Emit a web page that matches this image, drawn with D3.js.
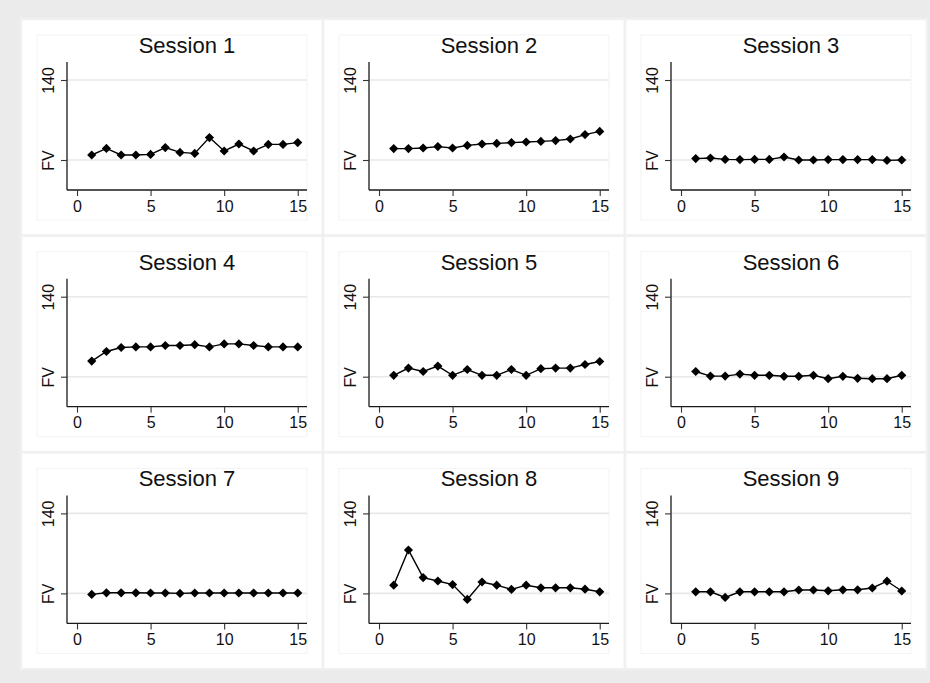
<!DOCTYPE html>
<html><head><meta charset="utf-8">
<script src="https://cdn.jsdelivr.net/npm/d3@7/dist/d3.min.js"></script>
<style>body{margin:0;background:#ebebeb}svg{display:block}</style>
</head><body>
<script>
// ---- data ----
const sessionTitles = ["Session 1","Session 2","Session 3","Session 4","Session 5","Session 6","Session 7","Session 8","Session 9"];
const periods = [1,2,3,4,5,6,7,8,9,10,11,12,13,14,15];
const fvSession1 = [102.5,105.8,102.5,102.5,102.8,106.2,103.8,103.3,111.2,104.5,108,104.5,107.8,107.8,108.7];
const fvSession2 = [105.7,105.7,106,106.7,106,107.3,108,108.3,108.7,109,109.3,109.7,110.5,112.7,114.3];
const fvSession3 = [100.7,101,100.3,100.2,100.3,100.3,101.5,100,100,100.2,100.2,100.2,100.2,99.8,100];
const fvSession4 = [107.8,112.6,114.6,114.9,114.9,115.6,115.6,116,114.9,116.4,116.4,115.6,114.9,114.9,114.9];
const fvSession5 = [100.7,104.3,102.6,105.3,100.7,103.6,100.7,100.7,103.6,100.7,104,104.3,104.3,106.1,107.6];
const fvSession6 = [102.6,100.3,100.3,101.3,100.7,100.7,100.2,100.2,100.7,99,100.2,99.2,99,99,100.7];
const fvSession7 = [99.5,100.3,100.3,100.3,100.2,100.2,100,100.2,100.2,100.2,100.2,100.2,100.2,100.2,100.2];
const fvSession8 = [104.1,121.7,107.9,106.2,104.4,97,105.7,104.1,102,104.1,102.8,102.8,102.8,102.1,100.8];
const fvSession9 = [100.8,100.8,98,100.8,100.8,100.8,100.8,101.7,101.7,101.3,101.8,101.8,102.7,106.1,101.2];
const seriesList = [fvSession1,fvSession2,fvSession3,fvSession4,fvSession5,fvSession6,fvSession7,fvSession8,fvSession9];
const xTickValues = [0,5,10,15];
const yTickValues = [100,140];
const yTickLabels = ["FV","140"];
const xDomain = [-0.68, 15.63];
const yDomain = [85, 149];

// ---- layout ----
const W = 930, H = 683;
const gridX0 = 21, gridY0 = 19, panelW = 302, panelH = 216.7;
const plotL = 46, plotR = 286, plotT = 43, plotB = 171;
const font = "'Liberation Sans', Arial, Helvetica, sans-serif";

const svg = d3.select("body").append("svg").attr("width", W).attr("height", H);
svg.append("rect").attr("width", W).attr("height", H).attr("fill", "#ebebeb");

const x = d3.scaleLinear().domain(xDomain).range([plotL, plotR]);
const y = d3.scaleLinear().domain(yDomain).range([plotB, plotT]);

const diamond = r => `M0,${-r}L${r},0L0,${r}L${-r},0Z`;

seriesList.forEach((vals, i) => {
  const col = i % 3, row = Math.floor(i / 3);
  const g = svg.append("g").attr("transform", `translate(${gridX0 + col * panelW},${gridY0 + row * panelH})`);
  // panel background with separator stroke
  g.append("rect").attr("x", 0).attr("y", 0).attr("width", panelW).attr("height", panelH)
    .attr("fill", "#fff").attr("stroke", "#f0f0f0").attr("stroke-width", 2.5);
  // inner plot region box
  g.append("rect").attr("x", 16).attr("y", 16).attr("width", plotR - 16).attr("height", 201 - 16)
    .attr("fill", "none").attr("stroke", "#f3f3f3").attr("stroke-width", 1);
  // title
  g.append("text").attr("x", (plotL + plotR) / 2).attr("y", 34).attr("text-anchor", "middle")
    .attr("font-family", font).attr("font-size", 22).attr("fill", "#111").text(sessionTitles[i]);
  // gridlines
  g.selectAll(".grid").data(yTickValues).enter().append("line")
    .attr("x1", plotL).attr("x2", plotR).attr("y1", d => y(d)).attr("y2", d => y(d))
    .attr("stroke", "#e8e8e8").attr("stroke-width", 1.6);
  // x axis
  const xa = g.append("g").attr("transform", `translate(0,${plotB})`)
    .call(d3.axisBottom(x).tickValues(xTickValues).tickSize(6).tickPadding(4).tickSizeOuter(0));
  xa.select(".domain").attr("stroke", "#1a1a1a").attr("stroke-width", 1.3).attr("d", `M${plotL},0H${plotR}`);
  xa.selectAll(".tick line").attr("stroke", "#333").attr("stroke-width", 1.1);
  xa.selectAll(".tick text").attr("font-family", font).attr("font-size", 16).attr("fill", "#111").attr("dy", "0.72em");
  // y axis
  const ya = g.append("g").attr("transform", `translate(${plotL},0)`)
    .call(d3.axisLeft(y).tickValues(yTickValues).tickSize(6).tickSizeOuter(0)
      .tickFormat(d => yTickLabels[yTickValues.indexOf(d)]));
  ya.select(".domain").attr("stroke", "#1a1a1a").attr("stroke-width", 1.3).attr("d", `M0,${plotT}V${plotB}`);
  ya.selectAll(".tick line").attr("stroke", "#333").attr("stroke-width", 1.1);
  ya.selectAll(".tick text").attr("font-family", font).attr("font-size", 16).attr("fill", "#111")
    .attr("x", null).attr("dy", null).attr("text-anchor", "middle")
    .attr("transform", `translate(${32.5 - plotL},0) rotate(-90)`);
  // line
  const pts = periods.map((p, k) => [p, vals[k]]);
  g.append("path").datum(pts)
    .attr("d", d3.line().x(d => x(d[0])).y(d => y(d[1])))
    .attr("fill", "none").attr("stroke", "#000").attr("stroke-width", 1.4);
  // markers
  g.selectAll(".mk").data(pts).enter().append("path")
    .attr("transform", d => `translate(${x(d[0])},${y(d[1])})`)
    .attr("d", diamond(4.6)).attr("fill", "#000");
});
</script>
</body></html>
